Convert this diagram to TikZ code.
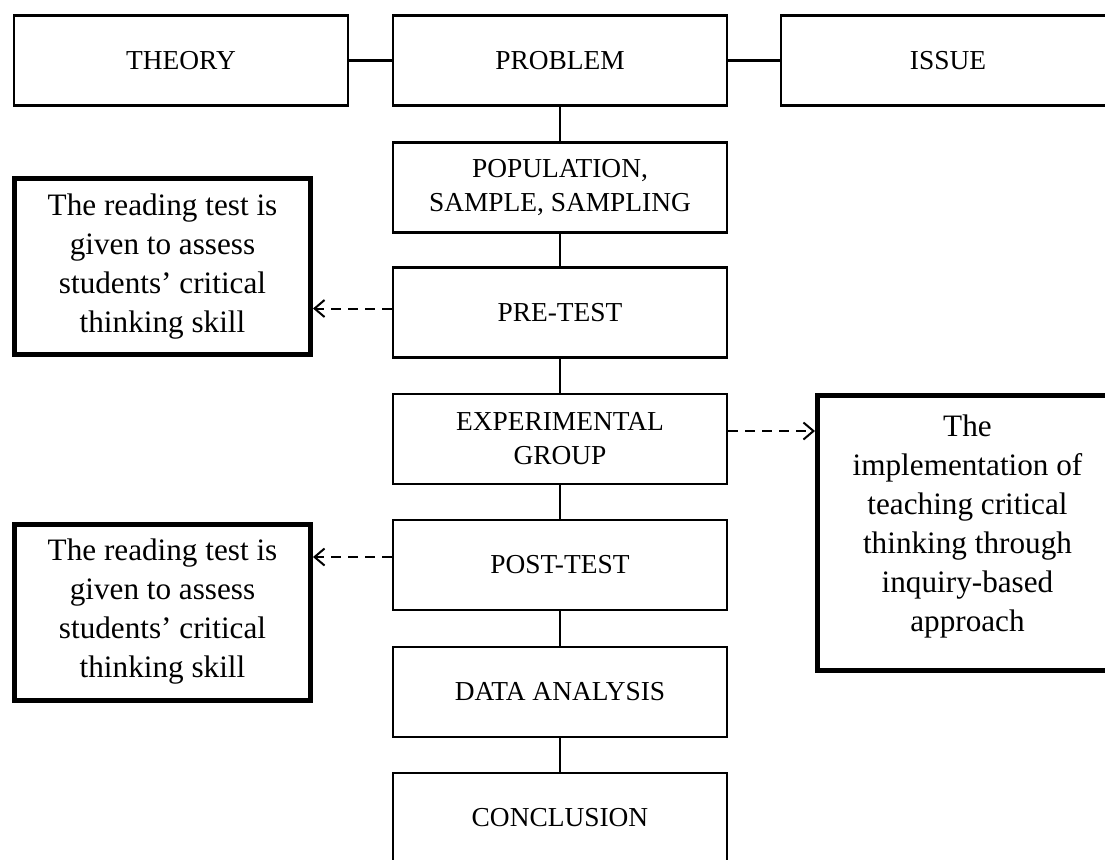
\documentclass[tikz,border=0pt]{standalone}
\usepackage{fontspec}
\setmainfont{Liberation Serif}
\usetikzlibrary{arrows.meta, positioning}

\begin{document}
\begin{tikzpicture}[
    x=0.5pt,
    y=-0.5pt,
    >={Straight Barb[length=5pt, width=8.5pt]},
    box/.style={
        draw=black,
        fill=white,
        line width=1.1pt,
        minimum width=167pt,
        minimum height=45pt,
        inner sep=2pt,
        align=center,
        font=\fontsize{13.7}{17}\selectfont
    },
    note/.style={
        draw=black,
        fill=white,
        line width=2.5pt,
        minimum width=148pt,
        inner sep=2pt,
        align=center,
        font=\fontsize{15.6}{19.5}\selectfont
    },
    link/.style={
        draw=black,
        line width=1.1pt
    },
    hint/.style={
        draw=black,
        line width=1pt,
        dash pattern=on 5pt off 3.5pt,
        ->
    }
]

\useasboundingbox (0,0) rectangle (1105,859);
\clip (0,0) rectangle (1105,859);

% Top row
\node[box] (theory) at (181, 60.5) {THEORY};
\node[box] (problem) at (560, 60.5) {PROBLEM};
\node[box] (issue) at (948, 60.5) {ISSUE};

% Main column
\node[box] (pop) at (560, 187.5) {POPULATION,\\SAMPLE, SAMPLING};
\node[box] (pre) at (560, 312.5) {PRE-TEST};
\node[box] (exp) at (560, 439) {EXPERIMENTAL\\GROUP};
\node[box] (post) at (560, 565) {POST-TEST};
\node[box] (data) at (560, 692) {DATA ANALYSIS};
\node[box] (concl) at (560, 818) {CONCLUSION};

% Notes
\node[note, minimum height=88pt] (pretest note) at (162.5, 266.5)
    {The reading test is\\given to assess\\students' critical\\thinking skill};
\node[note, minimum height=88pt] (posttest note) at (162.5, 612)
    {The reading test is\\given to assess\\students' critical\\thinking skill};
\node[note, minimum width=150pt, minimum height=137.5pt] (treat note) at (967.5, 533)
    {The\\implementation of\\teaching critical\\thinking through\\inquiry-based\\approach\\[-9.5pt]};

% Plain links
\draw[link] (theory) -- (problem);
\draw[link] (problem) -- (issue);
\draw[link] (problem) -- (pop);
\draw[link] (pop) -- (pre);
\draw[link] (pre) -- (exp);
\draw[link] (exp) -- (post);
\draw[link] (post) -- (data);
\draw[link] (data) -- (concl);

% Dashed hints
\draw[hint] ([yshift=2pt]pre.west) -- ([yshift=2pt]pre.west -| pretest note.east);
\draw[hint] ([yshift=4pt]post.west) -- ([yshift=4pt]post.west -| posttest note.east);
\draw[hint] ([yshift=4pt]exp.east) -- ([yshift=4pt]exp.east -| treat note.west);

\end{tikzpicture}
\end{document}
